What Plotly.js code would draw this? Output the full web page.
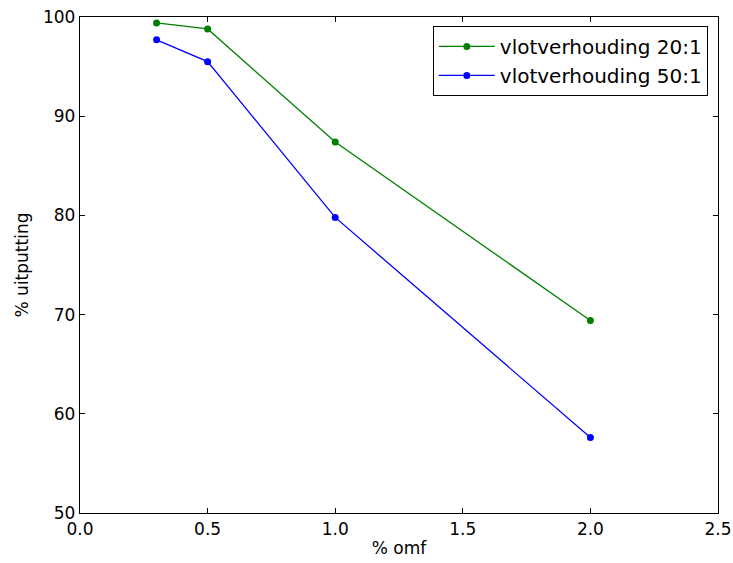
<!DOCTYPE html>
<html><head><meta charset="utf-8">
<script src="https://cdn.plot.ly/plotly-3.0.1.min.js"></script>
<style>html,body{margin:0;padding:0;background:#fff}</style>
</head><body>
<div id="chart" style="width:733px;height:563px"></div>
<script>
const omf = [0.3, 0.5, 1.0, 2.0];
const uitputting20 = [99.4, 98.8, 87.4, 69.4];
const uitputting50 = [97.7, 95.5, 79.8, 57.6];
const seriesNames = ['vlotverhouding 20:1', 'vlotverhouding 50:1'];
const xTicks = [0.0, 0.5, 1.0, 1.5, 2.0, 2.5];
const xTickLabels = ['0.0', '0.5', '1.0', '1.5', '2.0', '2.5'];
const yTicks = [50, 60, 70, 80, 90, 100];

const font = {family: 'DejaVu Sans', size: 17, color: '#000'};
const traces = [
  {x: omf, y: uitputting20, name: seriesNames[0], mode: 'lines+markers',
   line: {color: '#008000', width: 1.3}, marker: {color: '#008000', size: 7}},
  {x: omf, y: uitputting50, name: seriesNames[1], mode: 'lines+markers',
   line: {color: '#0000ff', width: 1.3}, marker: {color: '#0000ff', size: 7}}
];
const axisCommon = {showgrid: false, zeroline: false, showline: true, linecolor: '#000', linewidth: 1.2,
  mirror: 'ticks', ticks: 'inside', ticklen: 5, tickcolor: '#000', tickwidth: 1, tickfont: font};
const layout = {
  width: 733, height: 563,
  margin: {l: 80, r: 15, t: 17, b: 50},
  paper_bgcolor: '#fff', plot_bgcolor: '#fff',
  font: font,
  xaxis: Object.assign({}, axisCommon, {range: [0, 2.5], tickvals: xTicks, ticktext: xTickLabels,
    title: {text: '% omf', font: font, standoff: 4}}),
  yaxis: Object.assign({}, axisCommon, {range: [50, 100], tickvals: yTicks,
    title: {text: '% uitputting', font: font, standoff: 10}}),
  showlegend: true,
  legend: {x: 0.984, xanchor: 'right', y: 0.982, yanchor: 'top', bordercolor: '#000', borderwidth: 1,
    bgcolor: '#fff', font: {family: 'DejaVu Sans', size: 20, color: '#000'}, itemwidth: 56, tracegroupgap: 4}
};
Plotly.newPlot('chart', traces, layout, {displayModeBar: false, staticPlot: true});
</script>
</body></html>
